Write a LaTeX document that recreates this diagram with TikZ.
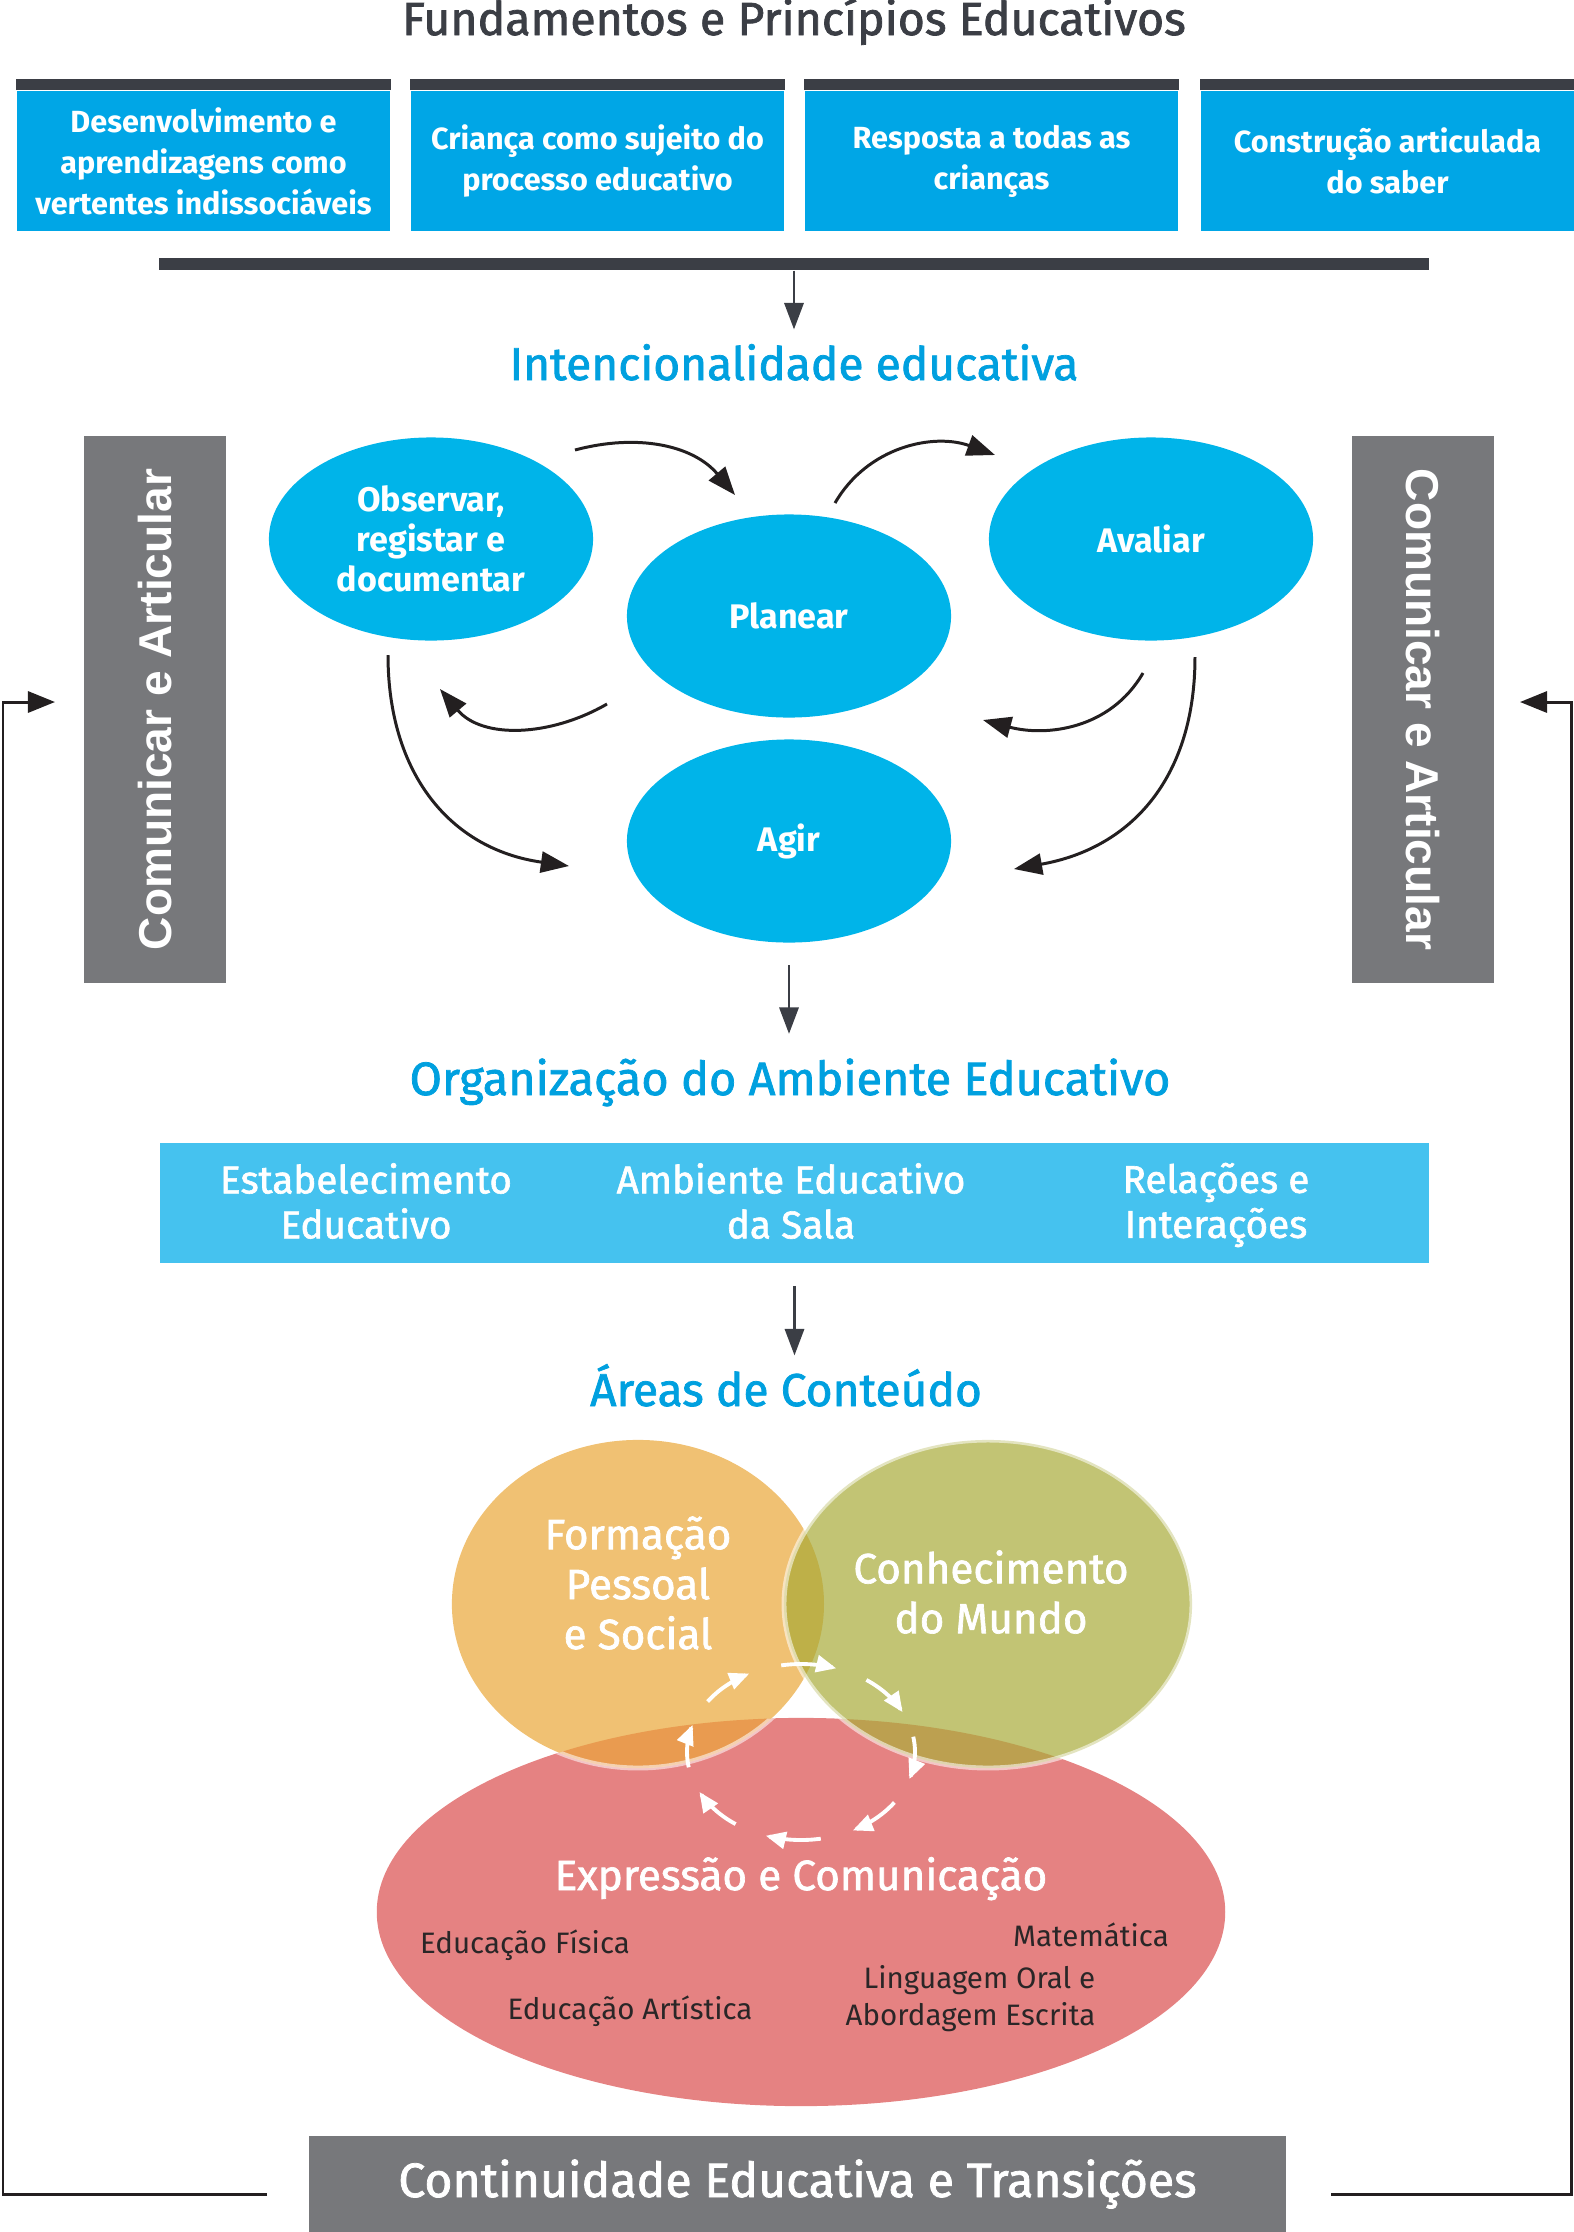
\documentclass[tikz,border=0pt]{standalone}
\usepackage{fontspec}
\setmainfont{Fira Sans}
\newfontfamily\medfont{Fira Sans}[FakeBold=1.6]
\newfontfamily\armfont{Liberation Sans}
\usetikzlibrary{arrows.meta,calc,shapes.geometric}

\definecolor{darkbar}{HTML}{3B3E45}
\definecolor{fundblue}{HTML}{00A6E6}
\definecolor{actblue}{HTML}{00B4E9}
\definecolor{headblue}{HTML}{00A0DF}
\definecolor{bandblue}{HTML}{45C2EF}
\definecolor{sidegray}{HTML}{77787B}
\definecolor{formorange}{HTML}{F0C173}
\definecolor{conhgreen}{HTML}{C2C474}
\definecolor{exprred}{HTML}{E58282}
\definecolor{fcmix}{HTML}{BEB048}
\definecolor{femix}{HTML}{E99B50}
\definecolor{cemix}{HTML}{BCA050}
\definecolor{textdark}{HTML}{2A2627}
\definecolor{arrowblack}{HTML}{231F20}

\tikzset{
	fundbox/.style={rectangle, fill=fundblue, text=white, minimum width=3.73cm, minimum height=1.40cm, inner sep=0pt, align=center, font=\bfseries\fontsize{8.7}{11.7}\selectfont},
	heading/.style={inner sep=0pt, text=headblue, font=\medfont\fontsize{13.1}{15}\selectfont},
	sidebar/.style={rectangle, fill=sidegray, text=white, minimum width=5.47cm, minimum height=1.42cm, inner sep=0pt, font=\armfont\bfseries\fontsize{13.1}{15}\selectfont},
	actnode/.style={ellipse, fill=actblue, text=white, minimum width=3.24cm, minimum height=2.03cm, inner sep=0pt, align=center, font=\bfseries\fontsize{9.7}{11.4}\selectfont},
	cyc/.style={draw=arrowblack, line width=0.85pt, -{Triangle[length=8pt,width=6pt]}},
	flow/.style={draw=darkbar, line width=0.6pt, -{Triangle[length=7.5pt,width=5.5pt]}},
	backarrow/.style={draw=arrowblack, line width=0.85pt, -{Triangle[length=7.7pt,width=6pt]}},
	bandtxt/.style={inner sep=0pt, text=white, align=center, font=\medfont\fontsize{11}{12.8}\selectfont},
	venn/.style={ellipse, inner sep=0pt},
	venntxt/.style={inner sep=0pt, text=white, align=center, font=\medfont\fontsize{12}{14.2}\selectfont},
	areatxt/.style={inner sep=0pt, text=textdark, font=\fontsize{8.4}{10.5}\selectfont},
	ring/.style={draw=white, draw opacity=0.55, line width=1.4pt},
	whitearc/.style={draw=white, line width=1.1pt, -{Triangle[length=5.7pt,width=4.8pt]}},
}

\begin{document}
\begin{tikzpicture}[x=0.01cm, y=-0.01cm]
			%%%%% START %%%%%
			\useasboundingbox (0,0) rectangle (1574,2232);
			
			\node[anchor=base, inner sep=0pt, text=darkbar, font=\medfont\fontsize{13.2}{16}\selectfont] (title) at (794,35) {Fundamentos e Princípios Educativos};
			
			\node[fundbox] (f1) at (203.5,161) {Desenvolvimento e\\aprendizagens como\\vertentes indissociáveis};
			\node[fundbox] (f2) at (597.5,161) {Criança como sujeito do\\processo educativo};
			\node[fundbox] (f3) at (991.5,161) {Resposta a todas as\\crianças};
			\node[fundbox] (f4) at (1387.5,161) {Construção articulada\\do saber};
			\foreach \f in {f1,f2,f3,f4}
				\fill[darkbar] (\f.north west) rectangle ([shift={(0,-11)}]\f.north east);
			
			\node[fill=darkbar, minimum width=12.70cm, minimum height=0.12cm, inner sep=0pt] (bar) at (794,264) {};
			\node[heading, anchor=base] (intent) at (794,380) {Intencionalidade educativa};
			\draw[flow, shorten >=0.14cm] (bar.south) -- (bar.south |- intent.north);
			
			\node[sidebar, rotate=90] (commL) at (155,709.5) {Comunicar e Articular};
			\node[sidebar, rotate=-90] (commR) at (1423,709.5) {Comunicar e Articular};
			
			\node[actnode] (obs) at (431,539) {Observar,\\registar e\\documentar};
			\node[actnode] (plan) at (789,616) {Planear};
			\node[actnode] (aval) at (1151,539) {Avaliar};
			\node[actnode] (agir) at (789,841) {Agir};
			
			\draw[cyc] ([shift={(144,-89)}]obs.center) to[out=15,in=130] ([shift={(-54,-121)}]plan.center);
			\draw[cyc] ([shift={(46,-113)}]plan.center) to[out=60,in=160] ([shift={(-156,-84)}]aval.center);
			\draw[cyc] ([shift={(-8,134)}]aval.center) to[out=-120,in=-15] ([shift={(194,104)}]plan.center);
			\draw[cyc] ([shift={(44,118)}]aval.center) to[out=-90,in=10, looseness=1.1] ([shift={(225,28)}]agir.center);
			\draw[cyc] ([shift={(-182,88)}]plan.center) to[out=-150,in=-50] ([shift={(9,150)}]obs.center);
			\draw[cyc] ([shift={(-43,116)}]obs.center) to[out=-90,in=172, looseness=1.1] ([shift={(-220,25)}]agir.center);
			
			\node[heading, anchor=base, font=\medfont\fontsize{13.3}{15}\selectfont] (org) at (790,1095) {Organização do Ambiente Educativo};
			\draw[flow, shorten <=0.22cm, shorten >=0.24cm] (agir.south) -- (agir.south |- org.north);
			
			\node[fill=bandblue, minimum width=12.69cm, minimum height=1.20cm, inner sep=0pt] (band) at (794.5,1203) {};
			\node[bandtxt] (estab) at (366,1201) {Estabelecimento\\Educativo};
			\node[bandtxt] (sala) at (791,1201) {Ambiente Educativo\\da Sala};
			\node[bandtxt] (rel) at (1216,1205) {Relações e\\Interações};
			
			\node[heading, anchor=base] (areas) at (786,1406) {Áreas de Conteúdo};
			\draw[flow, shorten <=0.22cm, shorten >=0.08cm] (band.south) -- (band.south |- areas.north);
			
			% areas de conteudo
			\node[venn, fill=exprred, minimum width=8.48cm, minimum height=3.88cm] (expr) at (801,1912) {};
			\node[venn, fill=formorange, minimum width=3.72cm, minimum height=3.28cm] (form) at (638,1604) {};
			\node[venn, fill=conhgreen, minimum width=4.08cm, minimum height=3.28cm] (conh) at (988,1604) {};
			\begin{scope}
				\clip (form.center) ellipse [x radius=186, y radius=164];
				\fill[fcmix] (conh.center) ellipse [x radius=204, y radius=164];
				\fill[femix] (expr.center) ellipse [x radius=424, y radius=194];
			\end{scope}
			\begin{scope}
				\clip (conh.center) ellipse [x radius=204, y radius=164];
				\fill[cemix] (expr.center) ellipse [x radius=424, y radius=194];
			\end{scope}
			\begin{scope}
				\clip (expr.center) ellipse [x radius=424, y radius=194];
				\draw[ring] (form.center) ellipse [x radius=186, y radius=164];
			\end{scope}
			\draw[ring] (conh.center) ellipse [x radius=204, y radius=164];
			
			\foreach \a in {-100,-55,...,215}
				\draw[whitearc] plot[domain=\a:\a+28, samples=12, smooth, variable=\t] ({801+114*cos(\t)},{1752+88*sin(\t)});
			
			\node[venntxt] (formtxt) at (638,1583) {Formação\\Pessoal\\e Social};
			\node[venntxt] (conhtxt) at (991,1592) {Conhecimento\\do Mundo};
			\node[venntxt, anchor=base] (exprtxt) at (801,1890) {Expressão e Comunicação};
			\node[areatxt, anchor=base] (fis) at (525,1953) {Educação Física};
			\node[areatxt, anchor=base] (art) at (630,2019) {Educação Artística};
			\node[areatxt, anchor=base] (mat) at (1091,1946) {Matemática};
			\node[areatxt, anchor=east, align=right] (ling) at (1096,1999) {Linguagem Oral e\\Abordagem Escrita};
			
			\node[fill=sidegray, minimum width=9.77cm, minimum height=0.96cm, inner sep=0pt, text=white, font=\medfont\fontsize{13.7}{15}\selectfont] (cont) at (797.5,2184) {Continuidade Educativa e Transições};
			
			\coordinate (lfoot) at (267,2194);
			\coordinate (lhead) at (55,702);
			\coordinate (rfoot) at (1331,2194);
			\coordinate (rhead) at (1520,702);
			\draw[backarrow] (lfoot) -- (3,2194) |- (lhead);
			\draw[backarrow] (rfoot) -- (1571,2194) |- (rhead);
			
			%%%%% END %%%%%
\end{tikzpicture}
\end{document}
